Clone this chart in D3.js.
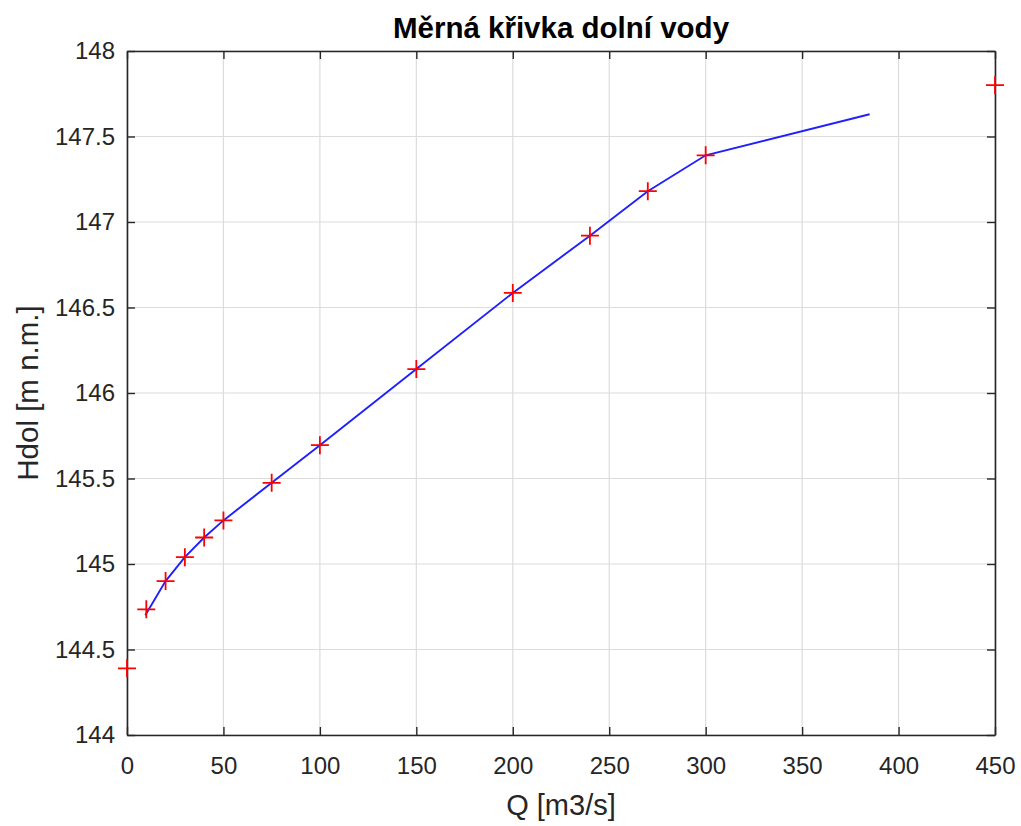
<!DOCTYPE html>
<html>
<head>
<meta charset="utf-8">
<script src="https://cdn.jsdelivr.net/npm/d3@7"></script>
<style>
  body { margin: 0; background: #fff; }
  svg { display: block; }
</style>
</head>
<body>
<svg id="drawing_region"></svg>
<script>
// measured points (red markers)
const pointQ = [0, 10, 20, 30, 40, 50, 75, 100, 150, 200, 240, 270, 300, 450];
const pointH = [144.39, 144.735, 144.90, 145.04, 145.155, 145.255, 145.475, 145.695, 146.14, 146.585, 146.92, 147.18, 147.39, 147.80];

// rating curve (blue line)
const lineQ = [9.5, 20, 30, 40, 50, 75, 100, 150, 200, 240, 270, 300, 385];
const lineH = [144.70, 144.90, 145.04, 145.155, 145.255, 145.475, 145.695, 146.14, 146.585, 146.92, 147.18, 147.39, 147.63];

const xTicks = [0, 50, 100, 150, 200, 250, 300, 350, 400, 450];
const yTicks = [144, 144.5, 145, 145.5, 146, 146.5, 147, 147.5, 148];

const config = {
    width: 1021,
    height: 826,
    margin: {top: 51, right: 26, bottom: 91, left: 127}
};

const svg = d3.select('#drawing_region')
    .attr('width', config.width)
    .attr('height', config.height);

const inner_width = config.width - config.margin.left - config.margin.right;
const inner_height = config.height - config.margin.top - config.margin.bottom;

const chart = svg.append('g')
    .attr('transform', `translate(${config.margin.left}, ${config.margin.top})`);

const xscale = d3.scaleLinear().domain([0, 450]).range([0, inner_width]);
const yscale = d3.scaleLinear().domain([144, 148]).range([inner_height, 0]);

const axisColor = '#262626';
const font = 'Liberation Sans, Arial, Helvetica, sans-serif';

// grid
chart.append('g')
    .selectAll('line')
    .data(xTicks)
    .join('line')
    .attr('x1', d => xscale(d)).attr('x2', d => xscale(d))
    .attr('y1', 0).attr('y2', inner_height)
    .attr('stroke', '#dcdcdc').attr('stroke-width', 1.2);

chart.append('g')
    .selectAll('line')
    .data(yTicks)
    .join('line')
    .attr('x1', 0).attr('x2', inner_width)
    .attr('y1', d => yscale(d)).attr('y2', d => yscale(d))
    .attr('stroke', '#dcdcdc').attr('stroke-width', 1.2);

// axes (inward ticks, matlab style)
const xaxis = d3.axisBottom(xscale).tickValues(xTicks).tickSize(-8).tickPadding(22).tickSizeOuter(0);
const yaxis = d3.axisLeft(yscale).tickValues(yTicks).tickSize(-8).tickPadding(12).tickSizeOuter(0)
    .tickFormat(d => d3.format('')(d));

const xaxis_group = chart.append('g')
    .attr('transform', `translate(0, ${inner_height})`)
    .call(xaxis);
const yaxis_group = chart.append('g').call(yaxis);

const xaxis_top = chart.append('g')
    .call(d3.axisTop(xscale).tickValues(xTicks).tickSize(-8).tickFormat('').tickSizeOuter(0));
const yaxis_right = chart.append('g')
    .attr('transform', `translate(${inner_width}, 0)`)
    .call(d3.axisRight(yscale).tickValues(yTicks).tickSize(-8).tickFormat('').tickSizeOuter(0));

[xaxis_group, yaxis_group, xaxis_top, yaxis_right].forEach(g => {
    g.select('.domain').attr('stroke', axisColor).attr('stroke-width', 1.6);
    g.selectAll('.tick line').attr('stroke', axisColor).attr('stroke-width', 1.4);
    g.selectAll('.tick text')
        .attr('fill', axisColor)
        .style('font-family', font)
        .style('font-size', '24px');
});

// blue line
const line = d3.line()
    .x(d => xscale(d[0]))
    .y(d => yscale(d[1]));

chart.append('path')
    .datum(lineQ.map((q, i) => [q, lineH[i]]))
    .attr('d', line)
    .attr('fill', 'none')
    .attr('stroke', '#2020ff')
    .attr('stroke-width', 1.9);

// red + markers
const s = 9;
chart.append('g')
    .selectAll('path')
    .data(pointQ.map((q, i) => [q, pointH[i]]))
    .join('path')
    .attr('d', d => {
        const x = xscale(d[0]), y = yscale(d[1]);
        return `M${x - s},${y}H${x + s}M${x},${y - s}V${y + s}`;
    })
    .attr('stroke', '#ff0000')
    .attr('stroke-width', 1.8)
    .attr('fill', 'none');

// title and labels
svg.append('text')
    .attr('x', config.margin.left + inner_width / 2)
    .attr('y', 38)
    .attr('text-anchor', 'middle')
    .style('font-family', font)
    .style('font-size', '29.5px')
    .style('font-weight', 'bold')
    .attr('fill', '#000')
    .text('Měrná křivka dolní vody');

svg.append('text')
    .attr('x', config.margin.left + inner_width / 2)
    .attr('y', 815)
    .attr('text-anchor', 'middle')
    .style('font-family', font)
    .style('font-size', '29px')
    .attr('fill', axisColor)
    .text('Q [m3/s]');

svg.append('text')
    .attr('transform', `translate(38, ${config.margin.top + inner_height / 2}) rotate(-90)`)
    .attr('text-anchor', 'middle')
    .style('font-family', font)
    .style('font-size', '29.5px')
    .attr('fill', axisColor)
    .text('Hdol [m n.m.]');
</script>
</body>
</html>
